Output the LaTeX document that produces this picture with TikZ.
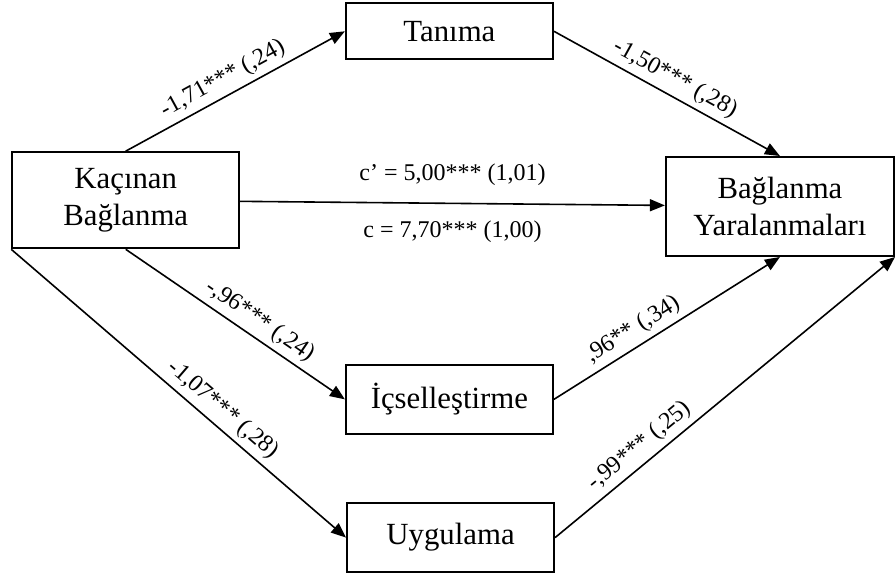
\documentclass[tikz,border=0pt]{standalone}
\usepackage{fontspec}
\setmainfont{Liberation Serif}
\usepackage{tikz}
\usetikzlibrary{arrows.meta}

\begin{document}
\begin{tikzpicture}[
    box/.style={draw, line width=1pt, inner sep=0pt, align=center,
      font=\fontsize{15.4}{18.5}\selectfont},
    mediator/.style={box, minimum width=3.64cm, minimum height=1.21cm},
    arrow/.style={-{Triangle[length=7.5pt, width=6pt]}, line width=0.8pt},
    coef/.style={font=\fontsize{12}{14}\selectfont, sloped, above, inner sep=2.5pt},
  ]
    \useasboundingbox (0,0) rectangle (15.75,10.16);

    \node[box, minimum width=3.99cm, minimum height=1.69cm] (kacinan) at (2.21,6.64) {Kaçınan\\Bağlanma};
    \node[box, minimum width=3.64cm, minimum height=0.98cm] (tanima) at (7.90,9.61) {Tanıma};
    \node[mediator] (icsel) at (7.90,3.14) {İçselleştirme};
    \node[mediator] (uygulama) at (7.92,0.71) {Uygulama};
    \node[box, minimum width=4.01cm, minimum height=1.74cm] (yaralanma) at (13.71,6.53) {Bağlanma\\Yaralanmaları};

    \draw[arrow] (kacinan.north) -- node[coef, pos=0.48] {-1,71*** (,24)} (tanima.west);
    \draw[arrow] (tanima.east) -- node[coef, pos=0.5] {-1,50*** (,28)} (yaralanma.north);
    \draw[arrow] (kacinan) --
      node[above=5pt, font=\fontsize{12}{14}\selectfont] {c' = 5,00*** (1,01)}
      node[below=5pt, font=\fontsize{12}{14}\selectfont] {c = 7,70*** (1,00)} (yaralanma);
    \draw[arrow] (kacinan.south) -- node[coef, pos=0.57] {-,96*** (,24)} (icsel.west);
    \draw[arrow] (icsel.east) -- node[coef, pos=0.39] {,96** (,34)} (yaralanma.south);
    \draw[arrow] (kacinan.south west) -- node[coef, pos=0.6] {-1,07*** (,28)} (uygulama.west);
    \draw[arrow] (uygulama.east) -- node[coef, pos=0.28] {-,99*** (,25)} (yaralanma.south east);
  \end{tikzpicture}
\end{document}
